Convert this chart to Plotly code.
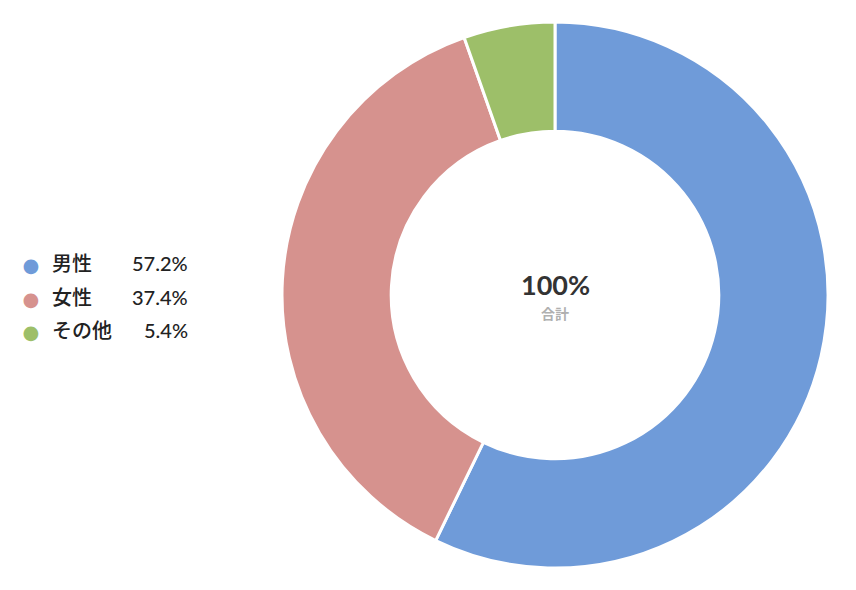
import plotly.graph_objects as go

labels = ["男性", "女性", "その他"]
values = [57.2, 37.4, 5.4]
pct_text = ["57.2%", "37.4%", "5.4%"]
colors = ["#6f9bd9", "#d6928e", "#9dbf69"]

W, H, OFF = 856, 590, 8
fig = go.Figure(go.Pie(
    labels=labels, values=values, hole=0.6, sort=False, direction="clockwise",
    rotation=0, marker=dict(colors=colors, line=dict(color="white", width=3)),
    textinfo="none", hoverinfo="label+percent", showlegend=False,
    domain=dict(x=[(282-OFF)/W, (828-OFF)/W], y=[1-(568-OFF)/H, 1-(22-OFF)/H]),
))
font = "Lato, 'Noto Sans CJK JP', sans-serif"
ys = [263, 297, 330]
for lab, p, c, y in zip(labels, pct_text, colors, ys):
    yp = 1 - (y-OFF)/H
    fig.add_annotation(x=(20-OFF)/W, y=1-(y-OFF+1)/H, xref="paper", yref="paper", text="●", showarrow=False,
                       xanchor="left", font=dict(size=30, color=c, family=font))
    fig.add_annotation(x=(50-OFF)/W, y=yp, xref="paper", yref="paper", text=lab, showarrow=False,
                       xanchor="left", font=dict(size=20, color="#222", family=font, weight=500))
    fig.add_annotation(x=(190-OFF)/W, y=yp, xref="paper", yref="paper", text=p, showarrow=False,
                       xanchor="right", font=dict(size=20, color="#222", family=font, weight=500))
fig.add_annotation(x=(555-OFF)/W, y=1-(284-OFF)/H, xref="paper", yref="paper", text="<b>100%</b>", showarrow=False,
                   font=dict(size=27, color="#333", family=font))
fig.add_annotation(x=(555-OFF)/W, y=1-(313-OFF)/H, xref="paper", yref="paper", text="<b>合計</b>", showarrow=False,
                   font=dict(size=14, color="#b0b0b0", family=font))
fig.update_layout(width=W, height=H, margin=dict(l=0, r=0, t=0, b=0),
                  paper_bgcolor="white", plot_bgcolor="white")
fig.write_html("out.html")
